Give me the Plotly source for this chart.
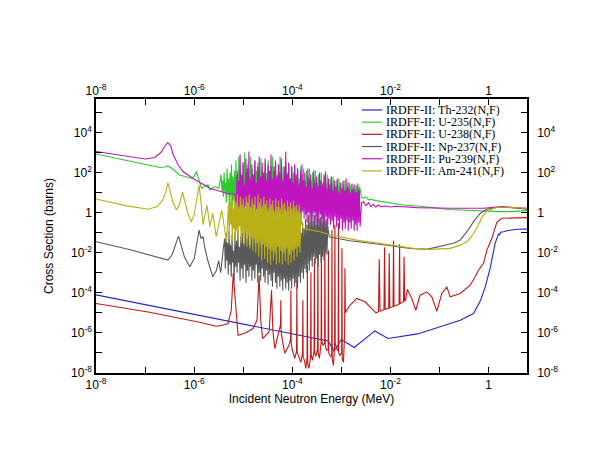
import numpy as np
import plotly.graph_objects as go

# ---- data: (log10 E [MeV], log10 cross section [barns]) ----
th232_pts = [(-8.0, -4.1), (-4.66, -5.73), (-3.27, -6.4), (-3.15, -6.9), (-3.0, -6.33), (-2.74, -6.73),
             (-2.32, -5.9), (-2.05, -6.28), (-1.45, -6.05), (-0.58, -5.37), (-0.31, -5.03), (-0.17, -4.4),
             (-0.07, -3.7), (0.03, -2.77), (0.13, -1.53), (0.18, -1.2), (0.2, -1.05), (0.22, -1.12),
             (0.24, -0.98), (0.3, -0.95), (0.37, -0.9), (0.58, -0.83), (0.78, -0.82)]

u235_pts = [(-8.0, 2.93), (-7.3, 2.58), (-6.7, 2.25), (-6.6, 2.28), (-6.535, 2.33), (-6.45, 2.2), (-6.3, 1.88),
            (-6.06, 1.72), (-6.0, 1.8), (-5.955, 2.05), (-5.9, 1.6), (-5.85, 1.22), (-5.72, 1.39), (-5.68, 1.14),
            (-5.58, 1.3), (-5.5, 1.22),
            (-5.450, 1.9), (-5.435, 1.1), (-5.420, 1.6), (-5.405, 0.8), (-5.390, 2.0), (-5.375, 1.0), (-5.360, 1.5),
            (-5.345, 0.5), (-5.330, 2.2), (-5.315, 0.9), (-5.300, 1.7), (-5.285, 0.3), (-5.270, 2.0), (-5.255, 0.8),
            (-5.240, 2.4), (-5.225, 0.2), (-5.210, 1.8), (-5.195, 0.6), (-5.180, 2.1), (-5.165, 0.0), (-5.150, 2.6),
            (-5.135, 0.5), (-5.120, 1.9), (-5.105, 0.1), (-5.090, 2.8), (-5.075, 0.4), (-5.060, 2.2), (-5.045, -0.1),
            (-5.030, 1.7), (-5.015, 0.3), (-5.000, 2.5), (-4.985, 0.0), (-4.970, 3.0), (-4.955, 0.4), (-4.940, 2.0),
            (-4.925, -0.1), (-4.910, 2.4), (-4.895, 0.3), (-4.880, 1.8), (-4.865, 0.0), (-4.850, 2.8), (-4.835, 0.2),
            (-4.820, 2.2), (-4.805, -0.2), (-4.790, 1.9), (-4.775, 0.3), (-4.760, 2.6), (-4.745, 0.0), (-4.730, 2.1),
            (-4.715, 0.4), (-4.700, 2.5), (-4.685, -0.1), (-4.670, 1.8), (-4.655, 0.2), (-4.640, 2.7), (-4.625, 0.0),
            (-4.610, 2.2), (-4.595, 0.4), (-4.580, 1.9), (-4.565, -0.2), (-4.550, 2.5), (-4.535, 0.2), (-4.520, 2.0),
            (-4.505, 0.0), (-4.490, 2.6), (-4.475, 0.3), (-4.460, 1.8), (-4.445, -0.1), (-4.430, 2.3), (-4.415, 0.2),
            (-4.400, 2.8), (-4.385, 0.0), (-4.370, 2.1), (-4.355, 0.3), (-4.340, 2.5), (-4.325, -0.2), (-4.310, 1.9),
            (-4.295, 0.2), (-4.280, 2.4), (-4.265, 0.0), (-4.250, 2.8), (-4.235, 0.3), (-4.220, 2.0), (-4.205, -0.1),
            (-4.190, 2.3), (-4.175, 0.2), (-4.160, 1.8), (-4.145, 0.0), (-4.130, 2.5), (-4.115, 0.3), (-4.100, 2.0),
            (-4.085, -0.2), (-4.070, 2.4), (-4.055, 0.1), (-4.040, 1.7), (-4.025, 0.0), (-4.010, 2.3), (-3.995, 0.2),
            (-3.980, 2.0), (-3.965, -0.1), (-3.950, 2.4), (-3.935, 0.2), (-3.920, 1.8), (-3.905, 0.0), (-3.890, 2.2),
            (-3.875, 0.3), (-3.860, 1.7), (-3.845, -0.1), (-3.830, 2.3), (-3.815, 0.1), (-3.800, 1.9), (-3.785, 0.0),
            (-3.770, 2.2), (-3.755, 0.2), (-3.740, 1.6), (-3.725, -0.1), (-3.710, 2.1), (-3.695, 0.1), (-3.680, 1.8),
            (-3.665, 0.0), (-3.650, 2.2), (-3.635, 0.3), (-3.620, 1.6), (-3.605, -0.1), (-3.590, 2.0), (-3.575, 0.1),
            (-3.560, 1.7), (-3.545, 0.0), (-3.530, 2.1), (-3.515, 0.2), (-3.500, 1.5), (-3.485, -0.1), (-3.470, 1.9),
            (-3.455, 0.1), (-3.440, 1.6), (-3.425, 0.0), (-3.410, 2.0), (-3.395, 0.2), (-3.380, 1.5), (-3.365, -0.1),
            (-3.350, 1.8), (-3.335, 0.1), (-3.320, 1.5), (-3.305, 0.0), (-3.290, 1.9), (-3.275, 0.2), (-3.260, 1.4),
            (-3.245, 0.0), (-3.230, 1.7), (-3.215, 0.1), (-3.200, 1.5), (-3.185, -0.1), (-3.170, 1.8), (-3.155, 0.2),
            (-3.140, 1.3), (-3.125, 0.0), (-3.110, 1.6), (-3.095, 0.1), (-3.080, 1.4), (-3.065, -0.1), (-3.050, 1.7),
            (-3.035, 0.2), (-3.020, 1.3), (-3.005, 0.0), (-2.990, 1.5), (-2.975, 0.1), (-2.960, 1.3), (-2.945, 0.0),
            (-2.930, 1.6), (-2.915, 0.2), (-2.900, 1.2), (-2.885, 0.0), (-2.870, 1.5), (-2.855, 0.2), (-2.840, 1.2),
            (-2.825, 0.1), (-2.810, 1.4), (-2.795, 0.2), (-2.780, 1.2), (-2.765, 0.0), (-2.750, 1.4), (-2.735, 0.2),
            (-2.720, 1.1), (-2.705, 0.1), (-2.690, 1.35), (-2.675, 0.2), (-2.660, 1.2), (-2.645, 0.3), (-2.630, 1.3),
            (-2.59, 0.75), (-2.555, 0.72), (-2.5, 0.78), (-2.45, 0.64), (-2.4, 0.66), (-2.3, 0.6), (-2.15, 0.55),
            (-1.9, 0.45), (-1.74, 0.38), (-1.4, 0.32), (-1.13, 0.25), (-0.8, 0.16), (-0.45, 0.12), (0.0, 0.06),
            (0.2, 0.05), (0.43, 0.05), (0.6, 0.08), (0.78, 0.1)]

u238_pts = [(-8.0, -4.53), (-6.91, -4.97), (-5.89, -5.47), (-5.55, -5.67), (-5.38, -5.59), (-5.31, -5.53),
            (-5.245, -4.87), (-5.204, -3.02), (-5.163, -4.37), (-5.106, -6.12), (-4.97, -6.02), (-4.8, -5.78),
            (-4.72, -5.37), (-4.678, -3.12), (-4.643, -5.37), (-4.608, -6.28), (-4.473, -5.95), (-4.424, -3.87),
            (-4.398, -5.87), (-4.357, -6.78), (-4.27, -5.87), (-4.241, -5.6), (-4.235, -4.37), (-4.229, -5.9),
            (-4.204, -6.37), (-4.153, -7.02), (-4.07, -6.62), (-4.036, -6.3), (-4.03, -3.87), (-4.024, -6.5),
            (-4.0, -6.87), (-3.95, -7.27), (-3.914, -6.9), (-3.908, -3.37), (-3.902, -7.0), (-3.878, -7.12),
            (-3.827, -7.47), (-3.792, -7.0), (-3.786, -4.37), (-3.78, -7.2), (-3.755, -7.37), (-3.724, -7.77),
            (-3.70, -7.2), (-3.694, -2.62), (-3.688, -7.5), (-3.663, -7.77), (-3.628, -7.2), (-3.622, -2.97),
            (-3.616, -7.1), (-3.592, -7.37), (-3.557, -6.9), (-3.551, -2.27), (-3.545, -7.0), (-3.52, -7.17),
            (-3.486, -6.8), (-3.48, -1.62), (-3.474, -7.0), (-3.449, -7.27), (-3.414, -6.5), (-3.408, -1.37),
            (-3.402, -6.4), (-3.378, -6.62), (-3.343, -6.5), (-3.337, -0.77), (-3.331, -6.6), (-3.306, -6.87),
            (-3.271, -6.8), (-3.265, -1.87), (-3.259, -7.0), (-3.235, -7.12), (-3.2, -7.2), (-3.194, -0.87),
            (-3.188, -7.3), (-3.163, -7.62), (-3.139, -6.6), (-3.133, -0.62), (-3.127, -6.5), (-3.102, -6.77),
            (-3.067, -6.9), (-3.061, -0.52), (-3.055, -7.0), (-3.031, -7.12), (-2.996, -7.0), (-2.99, -1.77),
            (-2.984, -7.3), (-2.959, -7.47), (-2.935, -6.0), (-2.929, -2.77), (-2.92, -5.0), (-2.894, -4.87),
            (-2.827, -4.62), (-2.69, -4.28), (-2.52, -4.45), (-2.296, -5.0),
            (-2.245, -4.94), (-2.23, -2.33), (-2.214, -4.92), (-2.133, -4.84), (-2.122, -1.73), (-2.108, -4.82),
            (-2.037, -4.77), (-2.027, -2.03), (-2.014, -4.74), (-1.949, -4.69), (-1.939, -1.4), (-1.929, -4.67),
            (-1.827, -4.57), (-1.816, -1.58), (-1.806, -4.54), (-1.735, -4.44), (-1.724, -2.2), (-1.712, -4.42),
            (-1.694, -4.37), (-1.657, -3.83), (-1.567, -4.28), (-1.486, -4.87), (-1.398, -4.12), (-1.261, -3.95),
            (-1.159, -4.2), (-1.057, -4.92), (-0.955, -4.03), (-0.853, -3.7), (-0.786, -4.2), (-0.582, -4.03),
            (-0.378, -3.62), (-0.276, -3.2), (-0.208, -2.87), (-0.106, -2.53), (-0.037, -1.87), (0.065, -1.28),
            (0.167, -0.47), (0.27, -0.28), (0.37, -0.28), (0.78, -0.25)]

np237_pts = [(-8.0, -1.45), (-7.3, -1.85), (-6.535, -2.37), (-6.45, -2.1), (-6.38, -1.6), (-6.32, -1.17),
             (-6.27, -1.6), (-6.2, -2.2), (-6.09, -2.7), (-6.0, -2.3), (-5.95, -1.6), (-5.9, -0.87), (-5.86, -1.3),
             (-5.82, -1.2), (-5.78, -1.8), (-5.72, -2.4), (-5.62, -3.2), (-5.55, -2.9), (-5.5, -2.4), (-5.46, -3.0),
             (-5.41, -1.87),
             (-5.380, -1.3), (-5.365, -2.8), (-5.350, -1.0), (-5.335, -2.4), (-5.320, -1.5), (-5.305, -3.1),
             (-5.290, -0.9), (-5.275, -2.6), (-5.260, -1.6), (-5.245, -3.2), (-5.230, -1.1), (-5.215, -2.5),
             (-5.200, -1.9), (-5.185, -3.4), (-5.170, -1.0), (-5.155, -2.7), (-5.140, -1.4), (-5.125, -3.0),
             (-5.110, -0.9), (-5.095, -2.5), (-5.080, -1.7), (-5.065, -3.4), (-5.050, -1.2), (-5.035, -2.8),
             (-5.020, -1.0), (-5.005, -3.3), (-4.990, -1.5), (-4.975, -2.6), (-4.960, -0.9), (-4.945, -3.5),
             (-4.930, -1.3), (-4.915, -2.9), (-4.900, -0.8), (-4.885, -3.2), (-4.870, -1.6), (-4.855, -2.7),
             (-4.840, -1.0), (-4.825, -3.4), (-4.810, -1.2), (-4.795, -2.9), (-4.780, -0.8), (-4.765, -3.3),
             (-4.750, -1.5), (-4.735, -2.6), (-4.720, -0.9), (-4.705, -3.5), (-4.690, -1.3), (-4.675, -3.0),
             (-4.660, -1.0), (-4.645, -3.4), (-4.630, -1.6), (-4.615, -2.8), (-4.600, -0.8), (-4.585, -3.2),
             (-4.570, -1.2), (-4.555, -3.5), (-4.540, -1.0), (-4.525, -2.9), (-4.510, -1.4), (-4.495, -3.6),
             (-4.480, -0.9), (-4.465, -3.1), (-4.450, -1.3), (-4.435, -3.4), (-4.420, -1.1), (-4.405, -3.7),
             (-4.390, -1.5), (-4.375, -3.0), (-4.360, -1.0), (-4.345, -3.5), (-4.330, -1.4), (-4.315, -3.8),
             (-4.300, -1.2), (-4.285, -3.2), (-4.270, -1.6), (-4.255, -3.7), (-4.240, -1.1), (-4.225, -3.4),
             (-4.210, -1.5), (-4.195, -3.9), (-4.180, -1.2), (-4.165, -3.3), (-4.150, -1.7), (-4.135, -3.8),
             (-4.120, -1.3), (-4.105, -3.5), (-4.090, -1.1), (-4.075, -3.9), (-4.060, -1.6), (-4.045, -3.4),
             (-4.030, -1.2), (-4.015, -3.8), (-4.000, -1.5), (-3.985, -3.3), (-3.970, -1.0), (-3.955, -3.7),
             (-3.940, -1.3), (-3.925, -3.5), (-3.910, -0.9), (-3.895, -3.8), (-3.880, -1.2), (-3.865, -3.2),
             (-3.850, -0.7), (-3.835, -3.5), (-3.820, -1.0), (-3.805, -3.0), (-3.790, -0.5), (-3.775, -3.3),
             (-3.760, -0.8), (-3.745, -2.8), (-3.730, -0.3), (-3.715, -3.0), (-3.700, -0.6), (-3.685, -2.6),
             (-3.670, -0.1), (-3.655, -2.9), (-3.640, -0.5), (-3.625, -2.4), (-3.610, 0.0), (-3.595, -2.7),
             (-3.580, -0.4), (-3.565, -2.2), (-3.550, -0.1), (-3.535, -2.6), (-3.520, -0.6), (-3.505, -2.3),
             (-3.490, 0.0), (-3.475, -2.7), (-3.460, -0.3), (-3.445, -2.1), (-3.430, -0.2), (-3.415, -2.5),
             (-3.400, -0.5), (-3.385, -2.2), (-3.370, 0.0), (-3.355, -2.4), (-3.340, -0.4), (-3.325, -2.0),
             (-3.310, -0.3), (-3.295, -2.1), (-3.280, -0.7),
             (-3.25, -1.2), (-3.1, -1.27), (-2.83, -1.4), (-2.15, -1.6), (-1.6, -1.78), (-1.26, -1.83),
             (-1.06, -1.73), (-0.72, -1.53), (-0.58, -1.37), (-0.5, -1.15), (-0.445, -0.95), (-0.38, -0.72),
             (-0.31, -0.45), (-0.17, -0.03), (-0.04, 0.17), (0.17, 0.27), (0.37, 0.27), (0.78, 0.17)]

pu239_pts = [(-8.0, 3.05), (-7.5, 2.87), (-7.0, 2.68), (-6.8, 2.75), (-6.68, 3.0), (-6.6, 3.3), (-6.54, 3.5),
             (-6.48, 3.35), (-6.43, 2.9), (-6.33, 2.4), (-6.23, 2.05), (-6.03, 1.72), (-5.68, 1.22), (-5.34, 0.97),
             (-5.17, 0.92),
             (-5.140, 0.4), (-5.125, 2.1), (-5.110, 0.1), (-5.095, 1.6), (-5.080, -0.2), (-5.065, 2.9), (-5.050, 0.6),
             (-5.035, 1.9), (-5.020, 0.2), (-5.005, 2.5), (-4.990, -0.1), (-4.975, 1.4), (-4.960, 0.3), (-4.945, 2.7),
             (-4.930, 0.0), (-4.915, 2.2), (-4.900, 0.5), (-4.885, 3.05), (-4.870, -0.2), (-4.855, 1.7), (-4.840, 0.2),
             (-4.825, 2.4), (-4.810, -0.3), (-4.795, 1.9), (-4.780, 0.4), (-4.765, 2.6), (-4.750, 0.0), (-4.735, 1.5),
             (-4.720, -0.4), (-4.705, 2.3), (-4.690, 0.3), (-4.675, 2.8), (-4.660, -0.1), (-4.645, 1.8), (-4.630, 0.2),
             (-4.615, 2.5), (-4.600, -0.3), (-4.585, 2.0), (-4.570, 0.4), (-4.555, 2.7), (-4.540, -0.2), (-4.525, 1.6),
             (-4.510, 0.1), (-4.495, 2.4), (-4.480, -0.5), (-4.465, 2.1), (-4.450, 0.3), (-4.435, 2.9), (-4.420, -0.1),
             (-4.405, 1.7), (-4.390, 0.2), (-4.375, 2.3), (-4.360, -0.4), (-4.345, 2.6), (-4.330, 0.1), (-4.315, 1.8),
             (-4.300, -0.2), (-4.285, 2.4), (-4.270, 0.3), (-4.255, 2.0), (-4.240, -0.5), (-4.225, 2.7), (-4.210, 0.0),
             (-4.195, 1.6), (-4.180, -0.3), (-4.165, 2.3), (-4.150, 0.2), (-4.135, 3.05), (-4.120, -0.2), (-4.105, 1.9),
             (-4.090, 0.1), (-4.075, 2.5), (-4.060, -0.4), (-4.045, 1.7), (-4.030, 0.2), (-4.015, 2.3), (-4.000, -0.3),
             (-3.985, 1.5), (-3.970, 0.0), (-3.955, 2.4), (-3.940, -0.5), (-3.925, 1.9), (-3.910, 0.1), (-3.895, 2.2),
             (-3.880, -0.4), (-3.865, 1.4), (-3.850, 0.0), (-3.835, 2.1), (-3.820, -0.6), (-3.805, 2.4), (-3.790, 0.1),
             (-3.775, 1.6), (-3.760, -0.3), (-3.745, 2.0), (-3.730, -0.1), (-3.715, 1.3), (-3.700, -0.5), (-3.685, 2.2),
             (-3.670, 0.0), (-3.655, 1.7), (-3.640, -0.6), (-3.625, 1.9), (-3.610, -0.2), (-3.595, 1.2), (-3.580, -0.4),
             (-3.565, 2.1), (-3.550, 0.0), (-3.535, 1.5), (-3.520, -0.7), (-3.505, 1.8), (-3.490, -0.2), (-3.475, 1.3),
             (-3.460, -0.5), (-3.445, 2.0), (-3.430, -0.1), (-3.415, 1.6), (-3.400, -0.7), (-3.385, 1.4), (-3.370, -0.3),
             (-3.355, 1.9), (-3.340, -0.6), (-3.325, 2.05), (-3.310, -0.2), (-3.295, 1.2), (-3.280, -0.8), (-3.265, 1.7),
             (-3.250, -0.3), (-3.235, 1.4), (-3.220, -0.6), (-3.205, 1.8), (-3.190, -0.4), (-3.175, 1.1), (-3.160, -0.8),
             (-3.145, 1.6), (-3.130, -0.2), (-3.115, 1.3), (-3.100, -0.7), (-3.085, 1.7), (-3.070, -0.4), (-3.055, 1.0),
             (-3.040, -0.8), (-3.025, 1.5), (-3.010, -0.3), (-2.995, 1.2), (-2.980, -0.9), (-2.965, 1.6), (-2.950, -0.5),
             (-2.935, 1.1), (-2.920, -0.8), (-2.905, 1.7), (-2.890, -0.4), (-2.875, 1.3), (-2.860, -0.9), (-2.845, 1.5),
             (-2.830, -0.5), (-2.815, 1.0), (-2.800, -0.8), (-2.785, 1.45), (-2.770, -0.4), (-2.755, 1.2), (-2.740, -0.9),
             (-2.725, 1.4), (-2.710, -0.6), (-2.695, 1.0), (-2.680, -0.9), (-2.665, 1.45), (-2.650, -0.5), (-2.635, 1.1),
             (-2.620, -0.7),
             (-2.59, 0.5), (-2.55, 0.55), (-2.5, 0.35), (-2.45, 0.5), (-2.4, 0.3), (-2.35, 0.42), (-2.3, 0.28),
             (-2.25, 0.38), (-2.2, 0.3), (-2.1, 0.33), (-2.0, 0.28), (-1.9, 0.32), (-1.47, 0.25), (-0.79, 0.22),
             (-0.11, 0.22), (0.27, 0.3), (0.78, 0.22)]

am241_pts = [(-8.0, 0.68), (-7.4, 0.35), (-6.94, 0.17), (-6.75, 0.3), (-6.65, 0.6), (-6.58, 1.0), (-6.535, 1.5),
             (-6.49, 1.1), (-6.43, 0.5), (-6.36, 0.13), (-6.3, 0.4), (-6.24, 1.02), (-6.19, 0.5), (-6.12, -0.1),
             (-6.06, -0.45), (-6.0, -0.1), (-5.95, 0.6), (-5.9, 1.38), (-5.86, 0.5), (-5.82, -0.6), (-5.74, 0.38),
             (-5.68, -0.7), (-5.62, -0.03), (-5.55, -1.2), (-5.44, 0.13), (-5.34, -1.45),
             (-5.300, 0.4), (-5.285, -1.2), (-5.270, 0.7), (-5.255, -0.6), (-5.240, 0.9), (-5.225, -1.4), (-5.210, 0.2),
             (-5.195, -0.8), (-5.180, 0.8), (-5.165, -1.6), (-5.150, 0.5), (-5.135, -0.9), (-5.120, 0.9), (-5.105, -1.3),
             (-5.090, 0.3), (-5.075, -0.7), (-5.060, 0.8), (-5.045, -1.5), (-5.030, 0.4), (-5.015, -1.0), (-5.000, 0.7),
             (-4.985, -1.6), (-4.970, 0.2), (-4.955, -0.9), (-4.940, 0.8), (-4.925, -1.7), (-4.910, 0.5), (-4.895, -1.1),
             (-4.880, 0.9), (-4.865, -1.8), (-4.850, 0.3), (-4.835, -1.2), (-4.820, 0.7), (-4.805, -1.9), (-4.790, 0.4),
             (-4.775, -1.3), (-4.760, 0.8), (-4.745, -2.0), (-4.730, 0.2), (-4.715, -1.5), (-4.700, 0.9), (-4.685, -2.2),
             (-4.670, 0.5), (-4.655, -1.4), (-4.640, 0.7), (-4.625, -2.4), (-4.610, 0.3), (-4.595, -1.6), (-4.580, 0.8),
             (-4.565, -2.3), (-4.550, 0.4), (-4.535, -1.7), (-4.520, 0.6), (-4.505, -2.5), (-4.490, 0.2), (-4.475, -1.8),
             (-4.460, 0.7), (-4.445, -2.6), (-4.430, 0.4), (-4.415, -1.9), (-4.400, 0.6), (-4.385, -2.4), (-4.370, 0.1),
             (-4.355, -2.0), (-4.340, 0.7), (-4.325, -2.6), (-4.310, 0.3), (-4.295, -1.7), (-4.280, 0.6), (-4.265, -2.5),
             (-4.250, 0.2), (-4.235, -1.9), (-4.220, 0.7), (-4.205, -2.6), (-4.190, 0.4), (-4.175, -2.0), (-4.160, 0.5),
             (-4.145, -2.4), (-4.130, 0.1), (-4.115, -1.8), (-4.100, 0.6), (-4.085, -2.6), (-4.070, 0.3), (-4.055, -2.1),
             (-4.040, 0.5), (-4.025, -2.5), (-4.010, 0.2), (-3.995, -1.9), (-3.980, 0.6), (-3.965, -2.4), (-3.950, 0.3),
             (-3.935, -1.8), (-3.920, 0.4), (-3.905, -2.2), (-3.890, 0.1), (-3.875, -1.7), (-3.860, 0.4), (-3.845, -2.0),
             (-3.830, 0.0),
             (-3.79, -0.78), (-3.44, -0.95), (-3.23, -1.1), (-2.69, -1.37), (-2.01, -1.6), (-1.53, -1.78),
             (-1.19, -1.83), (-0.78, -1.78), (-0.58, -1.62), (-0.44, -1.45), (-0.34, -1.15), (-0.24, -0.75),
             (-0.14, -0.25), (-0.04, 0.08), (0.17, 0.27), (0.37, 0.27), (0.78, 0.22)]

series_names = ["IRDFF-II: Th-232(N,F)", "IRDFF-II: U-235(N,F)", "IRDFF-II: U-238(N,F)",
                "IRDFF-II: Np-237(N,F)", "IRDFF-II: Pu-239(N,F)", "IRDFF-II: Am-241(N,F)"]
series_points = [th232_pts, u235_pts, u238_pts, np237_pts, pu239_pts, am241_pts]
series_colors = ["#2424cc", "#30c830", "#c01818", "#595959", "#c014c0", "#b8b014"]

x_major_exp = [-8, -6, -4, -2, 0]
x_minor_exp = [-7, -5, -3, -1]
y_major_exp = [-8, -6, -4, -2, 0, 2, 4]
y_minor_exp = [-7, -5, -3, -1, 1, 3, 5]


def tick_text(exps):
    return ["1" if e == 0 else "10<sup>%d</sup>" % e for e in exps]


fig = go.Figure()
for name, pts, col in zip(series_names, series_points, series_colors):
    arr = np.array(pts)
    fig.add_trace(go.Scatter(x=10 ** arr[:, 0], y=10 ** arr[:, 1], mode="lines", name=name,
                             line=dict(color=col, width=1.1), showlegend=False))
fig.add_trace(go.Scatter(x=[], y=[], xaxis="x2", yaxis="y2", showlegend=False, hoverinfo="skip"))

FONT = "Liberation Sans, Arial, sans-serif"
minor_style = dict(ticks="inside", ticklen=6, tickwidth=1.2, tickcolor="black", showgrid=False)
axis_common = dict(type="log", showgrid=False, zeroline=False, showline=True, linecolor="black", linewidth=1.5,
                   ticks="inside", ticklen=6, tickwidth=1.2, tickcolor="black", automargin=False,
                   tickfont=dict(family=FONT, size=12, color="black"))
xr = [-8, 0.78]
yr = [-8, 5.67]
xaxis_ticks = dict(tickvals=[10.0 ** e for e in x_major_exp], ticktext=tick_text(x_major_exp),
                   minor=dict(tickvals=[10.0 ** e for e in x_minor_exp], **minor_style))
yaxis_ticks = dict(tickvals=[10.0 ** e for e in y_major_exp], ticktext=tick_text(y_major_exp),
                   minor=dict(tickvals=[10.0 ** e for e in y_minor_exp], **minor_style))
# the page body adds an 8px offset, so margins are set to land the plot box at x 96-527, y 99-373
fig.update_layout(
    width=600, height=464, paper_bgcolor="white", plot_bgcolor="white",
    margin=dict(l=88, r=81, t=91, b=99),
    xaxis=dict(range=xr, title=dict(text="Incident Neutron Energy (MeV)",
                                    font=dict(family=FONT, size=12, color="black"), standoff=0),
               **xaxis_ticks, **axis_common),
    yaxis=dict(range=yr, title=dict(text="Cross Section (barns)",
                                    font=dict(family=FONT, size=12, color="black"), standoff=15),
               **yaxis_ticks, **axis_common),
    xaxis2=dict(range=xr, overlaying="x", side="top", anchor="y2", ticklabelstandoff=-3,
                **xaxis_ticks, **axis_common),
    yaxis2=dict(range=yr, overlaying="y", side="right", anchor="x2", ticklabelstandoff=6,
                **yaxis_ticks, **axis_common),
)

# manual legend (compact rows like the reference)
leg_x0, leg_x1, leg_tx = 0.617, 0.664, 0.671
leg_y0, leg_dy = 0.960, 0.0445
for i, (name, col) in enumerate(zip(series_names, series_colors)):
    yy = leg_y0 - i * leg_dy
    fig.add_shape(type="line", xref="paper", yref="paper", x0=leg_x0, x1=leg_x1, y0=yy, y1=yy,
                  line=dict(color=col, width=1.2))
    fig.add_annotation(xref="paper", yref="paper", x=leg_tx, y=yy, text=name, showarrow=False,
                       xanchor="left", yanchor="middle", height=12, valign="middle", borderpad=0,
                       font=dict(family="Liberation Serif, Times New Roman, serif", size=12, color="black"))

fig.write_html("out.html")
